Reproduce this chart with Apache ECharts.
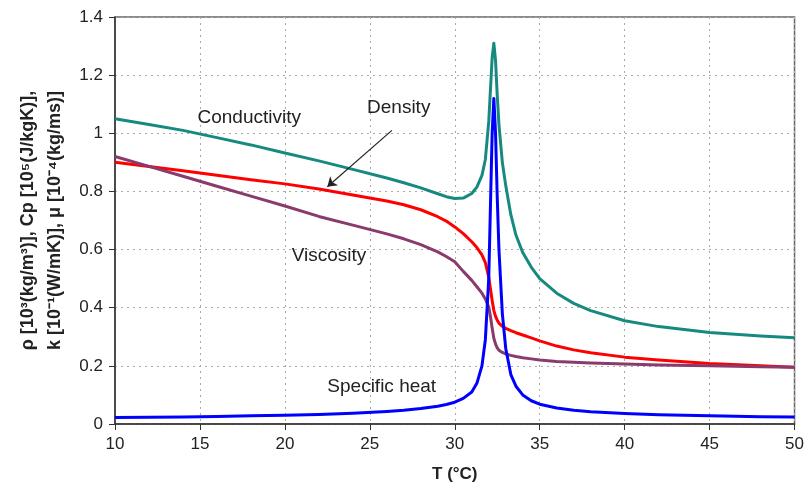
<!DOCTYPE html>
<html>
<head>
<meta charset="utf-8">
<script src="https://cdn.jsdelivr.net/npm/echarts@6/dist/echarts.min.js"></script>
<style>
  html, body { margin: 0; padding: 0; background: #fff; }
  #main { width: 807px; height: 494px; }
</style>
</head>
<body>
<div id="main"></div>
<script>
// temperature samples (°C), denser near the critical point
var temps = [10, 12, 14, 16, 18, 20, 22, 24, 26, 27, 28, 29, 29.5, 30, 30.5, 31, 31.3, 31.6, 31.8,
    32, 32.1, 32.2, 32.3, 32.4, 32.5, 32.6, 32.8, 33, 33.3, 33.6, 34, 34.5, 35, 36, 37, 38, 40, 42, 45, 48, 50];

var conductivity = [1.05, 1.03, 1.01, 0.985, 0.96, 0.932, 0.905, 0.876, 0.846, 0.83, 0.812, 0.792, 0.782, 0.776, 0.777, 0.793, 0.815, 0.855, 0.91,
    1.04, 1.15, 1.26, 1.31, 1.25, 1.13, 1.03, 0.9, 0.82, 0.72, 0.65, 0.59, 0.54, 0.5, 0.45, 0.415, 0.39, 0.355, 0.335, 0.315, 0.303, 0.297];

var density = [0.9, 0.886, 0.871, 0.856, 0.84, 0.826, 0.808, 0.788, 0.767, 0.754, 0.737, 0.713, 0.698, 0.678, 0.655, 0.627, 0.607, 0.582, 0.555,
    0.505, 0.465, 0.425, 0.39, 0.37, 0.357, 0.347, 0.336, 0.329, 0.321, 0.314, 0.306, 0.296, 0.286, 0.268, 0.255, 0.245, 0.23, 0.22, 0.208, 0.2, 0.195];

var viscosity = [0.92, 0.886, 0.852, 0.818, 0.784, 0.75, 0.714, 0.684, 0.654, 0.637, 0.617, 0.592, 0.576, 0.558, 0.525, 0.494, 0.472, 0.45, 0.43,
    0.402, 0.37, 0.33, 0.295, 0.275, 0.262, 0.254, 0.246, 0.241, 0.236, 0.232, 0.228, 0.224, 0.22, 0.215, 0.212, 0.21, 0.206, 0.203, 0.2, 0.197, 0.195];

var specificHeat = [0.022, 0.023, 0.024, 0.026, 0.028, 0.03, 0.033, 0.037, 0.043, 0.047, 0.053, 0.061, 0.067, 0.075, 0.088, 0.11, 0.14, 0.2, 0.29,
    0.5, 0.75, 1.0, 1.12, 1.0, 0.78, 0.6, 0.38, 0.26, 0.17, 0.13, 0.1, 0.08, 0.068, 0.055, 0.047, 0.042, 0.036, 0.032, 0.028, 0.025, 0.024];

// curve names written on the plot, placed in data units
var labelNames = ['Conductivity', 'Density', 'Viscosity', 'Specific heat'];
var labelT = [17.9, 26.7, 22.6, 25.7];
var labelV = [1.054, 1.089, 0.577, 0.128];

// arrow from "Density" down to its curve
var arrowFrom = [26.3, 1.01];
var arrowTo = [22.5, 0.816];

function pairs(ys) {
    return temps.map(function (t, i) { return [t, ys[i]]; });
}

var myChart = echarts.init(document.getElementById('main'));

var fontFam = '"Liberation Sans", Arial, sans-serif';

function curve(name, ys, color) {
    return {
        name: name,
        type: 'line',
        data: pairs(ys),
        showSymbol: false,
        smooth: false,
        lineStyle: { color: color, width: 3, join: 'round' }
    };
}

var conductivitySeries = curve('Conductivity', conductivity, '#178a80');
var densitySeries = curve('Density', density, '#ff0000');
var viscositySeries = curve('Viscosity', viscosity, '#8b3a6c');
var heatSeries = curve('Specific heat', specificHeat, '#0000ff');

densitySeries.markLine = {
    silent: true,
    symbol: ['none', 'arrow'],
    symbolSize: 9,
    label: { show: false },
    lineStyle: { color: '#222', width: 1.2, type: 'solid' },
    data: [[{ coord: arrowFrom }, { coord: arrowTo }]]
};

heatSeries.markPoint = {
    silent: true,
    symbol: 'circle',
    symbolSize: 0,
    label: {
        show: true,
        position: 'inside',
        fontSize: 19,
        color: '#222',
        formatter: function (p) { return p.name; }
    },
    data: labelNames.map(function (n, i) {
        return { name: n, coord: [labelT[i], labelV[i]] };
    })
};

var option = {
    animation: false,
    textStyle: { fontFamily: fontFam },
    grid: {
        left: 115, right: 11, top: 17, bottom: 70,
        show: true, borderColor: '#666', borderWidth: 1.5
    },
    xAxis: {
        type: 'value',
        min: 10, max: 50, interval: 5,
        name: 'T (°C)',
        nameLocation: 'middle',
        nameGap: 42,
        nameTextStyle: { fontSize: 17, fontWeight: 'bold', color: '#222' },
        axisLine: { lineStyle: { color: '#333', width: 1.5 } },
        axisTick: { inside: false, length: 6, lineStyle: { color: '#333' } },
        axisLabel: { fontSize: 17, color: '#222', margin: 12 },
        splitLine: { show: true, lineStyle: { color: '#aaa', type: [2, 4], width: 1 } }
    },
    yAxis: {
        type: 'value',
        min: 0, max: 1.4, interval: 0.2,
        name: 'ρ [10³(kg/m³)], Cp [10⁵(J/kgK)],\nk [10⁻¹(W/mK)], μ [10⁻⁴(kg/ms)]',
        nameLocation: 'middle',
        nameGap: 46,
        nameRotate: 90,
        nameTextStyle: { fontSize: 18, fontWeight: 'bold', color: '#222', lineHeight: 27 },
        axisLine: { show: true, lineStyle: { color: '#333', width: 1.5 } },
        axisTick: { show: true, inside: false, length: 6, lineStyle: { color: '#333' } },
        axisLabel: {
            fontSize: 17, color: '#222', margin: 12,
            formatter: function (v) { return String(Math.round(v * 10) / 10); }
        },
        splitLine: { show: true, lineStyle: { color: '#aaa', type: [2, 4], width: 1 } }
    },
    series: [conductivitySeries, densitySeries, viscositySeries, heatSeries]
};

myChart.setOption(option);
</script>
</body>
</html>
